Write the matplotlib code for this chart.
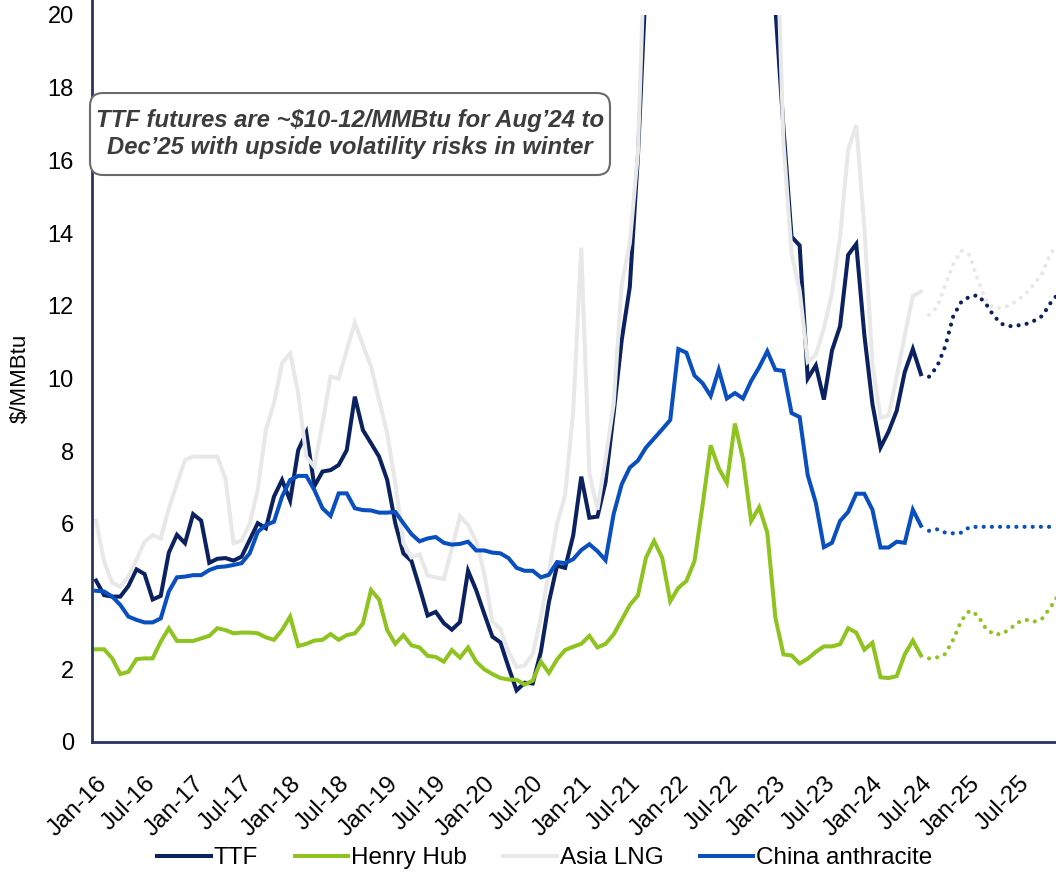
import numpy as np
import pandas as pd
import matplotlib
matplotlib.use('Agg')
import matplotlib.pyplot as plt
from matplotlib.patches import FancyBboxPatch
from matplotlib.transforms import IdentityTransform

plt.rcParams['font.family'] = ['Liberation Sans', 'DejaVu Sans']

# Monthly prices, Jan-16 .. Jul-24 ($/MMBtu)
ttf = [4.44, 4.04, 4.00, 4.00, 4.29, 4.75, 4.62, 3.92, 4.02, 5.21, 5.70, 5.47,
       6.27, 6.09, 4.93, 5.04, 5.06, 4.99, 5.10, 5.56, 6.02, 5.88, 6.75, 7.21,
       6.64, 8.03, 8.51, 7.04, 7.44, 7.48, 7.62, 8.03, 9.50, 8.58, 8.22, 7.85,
       7.21, 6.02, 5.19, 4.98, 4.25, 3.48, 3.58, 3.27, 3.09, 3.30, 4.71, 4.18,
       3.53, 2.90, 2.74, 2.06, 1.42, 1.63, 1.61, 2.48, 3.85, 4.85, 4.79, 5.68,
       7.30, 6.17, 6.20, 7.15, 9.04, 11.06, 12.52, 16.1, 21.0, 31.0, 27.0, 38.0,
       28.0, 27.0, 42.0, 32.0, 28.0, 33.0, 51.0, 70.0, 59.0, 39.0, 36.0, 37.0,
       20.2, 16.9, 13.90, 13.66, 10.00, 10.36, 9.42, 10.77, 11.44, 13.40, 13.70, 11.20,
       9.30, 8.10, 8.54, 9.11, 10.18, 10.81, 10.12]
henry_hub = [2.55, 2.55, 2.30, 1.87, 1.93, 2.28, 2.30, 2.30, 2.76, 3.13, 2.78, 2.78,
             2.78, 2.85, 2.92, 3.13, 3.08, 2.99, 3.01, 3.01, 2.99, 2.88, 2.81, 3.08,
             3.45, 2.64, 2.70, 2.79, 2.81, 2.97, 2.81, 2.94, 2.99, 3.26, 4.18, 3.92,
             3.08, 2.70, 2.94, 2.66, 2.60, 2.37, 2.34, 2.21, 2.53, 2.32, 2.60, 2.21,
             2.00, 1.87, 1.76, 1.72, 1.71, 1.58, 1.69, 2.21, 1.90, 2.27, 2.53, 2.62,
             2.70, 2.92, 2.60, 2.70, 2.96, 3.36, 3.77, 4.03, 5.07, 5.53, 5.07, 3.87,
             4.24, 4.43, 4.98, 6.52, 8.16, 7.53, 7.13, 8.76, 7.78, 6.08, 6.46, 5.76,
             3.42, 2.41, 2.38, 2.16, 2.29, 2.48, 2.63, 2.63, 2.69, 3.13, 3.01, 2.54,
             2.73, 1.78, 1.76, 1.81, 2.41, 2.79, 2.38]
asia_lng = [6.09, 4.96, 4.38, 4.27, 4.55, 5.01, 5.51, 5.69, 5.60, 6.43, 7.10, 7.76,
            7.85, 7.85, 7.85, 7.85, 7.25, 5.47, 5.54, 6.00, 6.95, 8.58, 9.32, 10.42,
            10.69, 9.59, 7.85, 7.57, 8.77, 10.05, 10.00, 10.78, 11.54, 10.92, 10.33, 9.41,
            8.49, 7.12, 5.47, 5.08, 5.16, 4.58, 4.53, 4.48, 5.32, 6.21, 5.97, 5.53,
            4.64, 3.32, 3.11, 2.48, 2.06, 2.11, 2.42, 3.42, 4.69, 6.00, 6.79, 9.11,
            13.60, 7.40, 6.39, 7.78, 9.30, 12.58, 13.72, 16.2, 23.0, 34.0, 31.0, 36.0,
            29.0, 27.0, 37.0, 29.0, 22.0, 25.0, 39.0, 50.0, 55.0, 36.0, 28.0, 32.0,
            23.5, 16.5, 13.44, 12.43, 10.46, 10.65, 11.38, 12.34, 13.90, 16.29, 16.97, 14.15,
            10.40, 8.92, 8.98, 10.05, 11.19, 12.27, 12.39]
china_anthracite = [4.16, 4.14, 4.00, 3.77, 3.45, 3.36, 3.29, 3.29, 3.40, 4.14, 4.53, 4.55,
                    4.59, 4.59, 4.73, 4.81, 4.83, 4.87, 4.92, 5.19, 5.78, 5.97, 6.06, 6.75,
                    7.21, 7.32, 7.32, 6.93, 6.43, 6.22, 6.84, 6.84, 6.43, 6.38, 6.37, 6.31,
                    6.31, 6.33, 6.02, 5.72, 5.52, 5.60, 5.64, 5.48, 5.43, 5.45, 5.51, 5.27,
                    5.27, 5.21, 5.19, 5.06, 4.79, 4.71, 4.71, 4.53, 4.60, 4.95, 4.92, 5.03,
                    5.28, 5.44, 5.25, 5.00, 6.27, 7.09, 7.55, 7.74, 8.10, 8.35, 8.60, 8.86,
                    10.81, 10.71, 10.08, 9.87, 9.52, 10.24, 9.45, 9.60, 9.45, 9.93, 10.31, 10.75,
                    10.24, 10.21, 9.05, 8.94, 7.34, 6.58, 5.36, 5.48, 6.08, 6.33, 6.83, 6.83,
                    6.39, 5.35, 5.35, 5.51, 5.48, 6.39, 5.95]

# Forward curves, Aug-24 .. Dec-25
ttf_fwd = [10.05, 10.33, 10.88, 11.72, 12.11, 12.25, 12.29, 12.07, 11.72,
           11.50, 11.44, 11.46, 11.50, 11.59, 11.72, 12.07, 12.34]
henry_hub_fwd = [2.30, 2.33, 2.42, 2.82, 3.34, 3.61, 3.49, 3.13, 2.96,
                 2.97, 3.11, 3.29, 3.36, 3.31, 3.40, 3.70, 4.04]
asia_lng_fwd = [11.75, 11.96, 12.57, 13.15, 13.52, 13.40, 12.73, 12.16, 11.93,
                11.95, 12.01, 12.16, 12.34, 12.60, 12.89, 13.44, 13.67]
china_anthracite_fwd = [5.81, 5.85, 5.76, 5.74, 5.76, 5.91, 5.92, 5.92, 5.92,
                        5.92, 5.92, 5.92, 5.92, 5.92, 5.92, 5.92, 5.92]

series = ['TTF', 'Henry Hub', 'Asia LNG', 'China anthracite']
colors = ['#0b2160', '#8fc31f', '#e8e8e8', '#0a4fbf']

dates = pd.date_range('2016-01-01', '2025-12-01', freq='MS')
tick_pos = np.arange(0, len(dates), 6)
tick_labels = [d.strftime('%b-%y') for d in dates[tick_pos]]

x_hist = np.arange(len(ttf))
x_fwd = np.arange(len(ttf), len(ttf) + len(ttf_fwd))

fig = plt.figure(figsize=(10.56, 8.8), dpi=100)
ax = fig.add_axes([92 / 1056, 1 - 742 / 880, 1 - 92 / 1056, 727 / 880])

hist = [ttf, henry_hub, asia_lng, china_anthracite]
fwd = [ttf_fwd, henry_hub_fwd, asia_lng_fwd, china_anthracite_fwd]
for name, c, h, f in zip(series, colors, hist, fwd):
    ax.plot(x_hist, h, color=c, lw=2.9, label=name, solid_joinstyle='miter')
    # forward curve drawn as round dots
    ax.plot(x_fwd, f, color=c, lw=3.0, linestyle=(0, (0.01, 1.95)),
            dash_capstyle='round')

ax.set_xlim(-0.5, 118.7)
ax.set_ylim(0, 20)
ax.set_yticks(np.arange(0, 21, 2))
ax.set_xticks(tick_pos)
ax.set_xticklabels(tick_labels, rotation=45, ha='right', rotation_mode='anchor')
ax.tick_params(axis='both', length=0, labelcolor='black')
ax.tick_params(axis='y', pad=13, labelsize=17)
ax.tick_params(axis='x', pad=22, labelsize=17.5)
ax.set_ylabel('$/MMBtu', fontsize=16, labelpad=12)

for s in ['top', 'right']:
    ax.spines[s].set_visible(False)
for s in ['left', 'bottom']:
    ax.spines[s].set_color('#27345f')
    ax.spines[s].set_linewidth(2)
ax.spines['left'].set_bounds(0, 20.45)

# callout box
fig.patches.append(FancyBboxPatch((90, 880 - 175), 520, 82,
                                  boxstyle='round,pad=0,rounding_size=13',
                                  fc='white', ec='#6b6b6b', lw=1.5,
                                  transform=IdentityTransform(), zorder=5))
fig.text(350 / 1056, 1 - 134 / 880,
         'TTF futures are ~\\$10-12/MMBtu for Aug\u201924 to\nDec\u201925 with upside volatility risks in winter',
         ha='center', va='center', fontsize=17.2, fontweight='bold',
         fontstyle='italic', color='#3c3c3c', linespacing=1.25, zorder=6)

ax.legend(loc='center', bbox_to_anchor=(545 / 1056, 1 - 858 / 880),
          bbox_transform=fig.transFigure, ncol=4, frameon=False, fontsize=17.5,
          handlelength=2.2, handletextpad=0.12, columnspacing=1.5)

fig.savefig('out.png', dpi=100)
